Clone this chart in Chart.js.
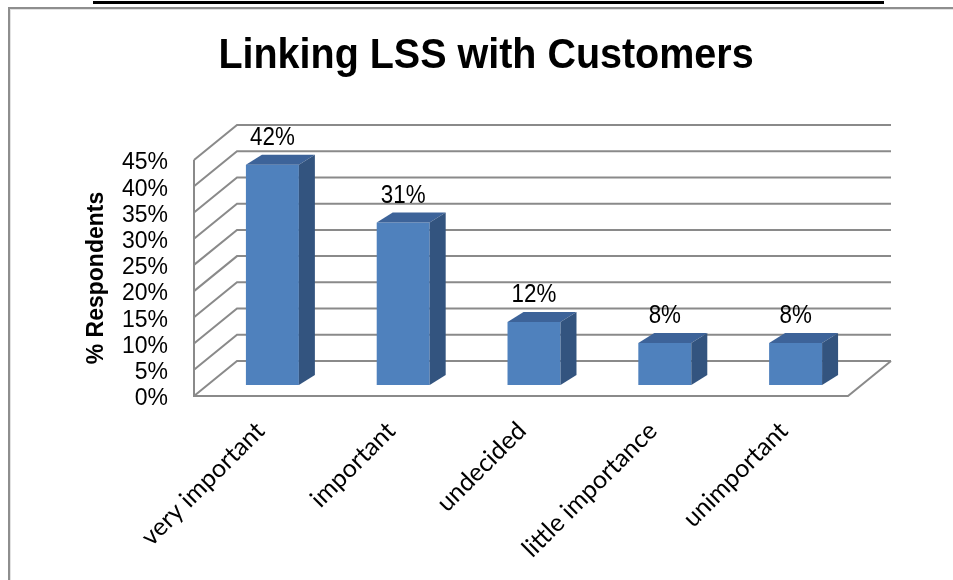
<!DOCTYPE html>
<html>
<head>
<meta charset="utf-8">
<script src="https://cdn.jsdelivr.net/npm/chart.js@4.4.1/dist/chart.umd.min.js"></script>
<style>
  body { margin: 0; background: #fff; }
  #caixa { width: 953px; height: 580px; }
</style>
</head>
<body>
<div id="caixa"><canvas id="grafico" width="953" height="580"></canvas></div>
<script>
// Respostas por categoria (% dos respondentes)
var categorias = ['very important', 'important', 'undecided', 'little importance', 'unimportant'];
var respondentes = [42, 31, 12, 8, 8];
// Marcas do eixo Y (em %)
var marcasY = [0, 5, 10, 15, 20, 25, 30, 35, 40, 45];
var titulo = 'Linking LSS with Customers';
var tituloY = '% Respondents';

// Deslocamentos da perspectiva 3D (plano das barras -> parede da frente / do fundo)
var frente = { dx: -13, dy: 11 };
var fundo = { dx: 30, dy: -24 };
var prof = { dx: 16, dy: -10 }; // profundidade da barra

function poligono(ctx, pts, cor) {
    ctx.beginPath();
    ctx.moveTo(pts[0][0], pts[0][1]);
    for (var i = 1; i < pts.length; i++) ctx.lineTo(pts[i][0], pts[i][1]);
    ctx.closePath();
    ctx.fillStyle = cor;
    ctx.fill();
}

// Fundo branco, linha da legenda acima, moldura cinza e títulos
var moldura = {
    id: 'moldura',
    beforeDraw: function(chart) {
        var ctx = chart.ctx, a = chart.chartArea;
        ctx.save();
        ctx.fillStyle = '#fff';
        ctx.fillRect(0, 0, chart.width, chart.height);
        ctx.fillStyle = '#000';
        ctx.fillRect(93, 1, 791, 3);
        ctx.lineWidth = 2;
        ctx.strokeStyle = '#e2e2e2';
        ctx.strokeRect(10, 9, chart.width + 20, chart.height + 20);
        ctx.strokeStyle = '#8e8e8e';
        ctx.strokeRect(9, 8, chart.width + 20, chart.height + 20);

        // título principal, um pouco condensado
        ctx.fillStyle = '#000';
        ctx.textAlign = 'center';
        ctx.textBaseline = 'alphabetic';
        ctx.font = 'bold 42px "Liberation Sans", Arial, sans-serif';
        ctx.save();
        ctx.translate(486, 68);
        ctx.scale(0.94, 1);
        ctx.fillText(titulo, 0, 0);
        ctx.restore();

        // título do eixo Y, centrado na parede da frente
        ctx.font = 'bold 23px "Liberation Sans", Arial, sans-serif';
        ctx.textBaseline = 'middle';
        ctx.save();
        ctx.translate(97, (a.top + a.bottom) / 2 + frente.dy);
        ctx.rotate(-Math.PI / 2);
        ctx.fillText(tituloY, 0, 0);
        ctx.restore();
        ctx.restore();
    }
};

// Paredes e piso em perspectiva, com as linhas de grade
var paredes = {
    id: 'paredes',
    beforeDatasetsDraw: function(chart) {
        var ctx = chart.ctx, a = chart.chartArea, y = chart.scales.y;
        ctx.save();
        ctx.strokeStyle = '#8a8a8a';
        ctx.lineWidth = 2;
        marcasY.forEach(function(v) {
            var py = y.getPixelForValue(v);
            ctx.beginPath();
            ctx.moveTo(a.left + frente.dx, py + frente.dy);
            ctx.lineTo(a.left + fundo.dx, py + fundo.dy);
            ctx.lineTo(a.right + fundo.dx, py + fundo.dy);
            ctx.stroke();
        });
        var y0 = y.getPixelForValue(marcasY[0]);
        var yMax = y.getPixelForValue(marcasY[marcasY.length - 1]);
        ctx.beginPath();
        ctx.moveTo(a.left + frente.dx, yMax + frente.dy);
        ctx.lineTo(a.left + frente.dx, y0 + frente.dy);
        ctx.lineTo(a.right + frente.dx, y0 + frente.dy);
        ctx.lineTo(a.right + fundo.dx, y0 + fundo.dy);
        ctx.stroke();
        ctx.restore();
    }
};

// Topo e lateral das barras, mais os rótulos de valor
var barras3d = {
    id: 'barras3d',
    afterDatasetsDraw: function(chart) {
        var ctx = chart.ctx;
        ctx.save();
        chart.getDatasetMeta(0).data.forEach(function(bar, i) {
            var p = bar.getProps(['x', 'y', 'base', 'width'], true);
            var l = p.x - p.width / 2, r = p.x + p.width / 2;
            poligono(ctx, [[l, p.y], [r, p.y], [r + prof.dx, p.y + prof.dy], [l + prof.dx, p.y + prof.dy]], '#3d6399');
            poligono(ctx, [[r, p.y], [r + prof.dx, p.y + prof.dy], [r + prof.dx, p.base + prof.dy], [r, p.base]], '#33547f');
            ctx.fillStyle = '#000';
            ctx.font = '26px "Liberation Sans", Arial, sans-serif';
            ctx.textAlign = 'center';
            ctx.textBaseline = 'middle';
            ctx.save();
            ctx.translate(p.x, p.y - 27);
            ctx.scale(0.86, 1);
            ctx.fillText(respondentes[i] + '%', 0, 0);
            ctx.restore();
        });
        ctx.restore();
    }
};

var ctx = document.getElementById('grafico').getContext('2d');
var grafico = new Chart(ctx, {
    type: 'bar',
    data: {
        labels: categorias,
        datasets: [{
            data: respondentes,
            backgroundColor: '#4f81bd',
            borderWidth: 0,
            categoryPercentage: 1,
            barPercentage: 0.405
        }]
    },
    options: {
        responsive: false,
        animation: false,
        layout: { padding: { left: 79, right: 92, top: 149, bottom: 0 } },
        plugins: {
            legend: { display: false },
            tooltip: { enabled: false },
            title: { display: false }
        },
        scales: {
            x: {
                grid: { display: false, drawTicks: false },
                border: { display: false },
                ticks: {
                    color: '#000',
                    font: { family: 'Lato, sans-serif', size: 25 },
                    minRotation: 45,
                    maxRotation: 45,
                    autoSkip: false,
                    padding: 31,
                    labelOffset: -12
                },
                afterFit: function(s) { s.height = 195; }
            },
            y: {
                min: 0,
                max: 45,
                grid: { display: false, drawTicks: false },
                border: { display: false },
                afterBuildTicks: function(s) {
                    s.ticks = marcasY.map(function(v) { return { value: v }; });
                },
                ticks: {
                    color: '#000',
                    font: { family: '"Liberation Sans", Arial, sans-serif', size: 23, lineHeight: 1 },
                    autoSkip: false,
                    padding: 39,
                    labelOffset: 14,
                    callback: function(v) { return v + '%'; }
                },
                afterFit: function(s) { s.width = 128; }
            }
        }
    },
    plugins: [moldura, paredes, barras3d]
});
</script>
</body>
</html>
